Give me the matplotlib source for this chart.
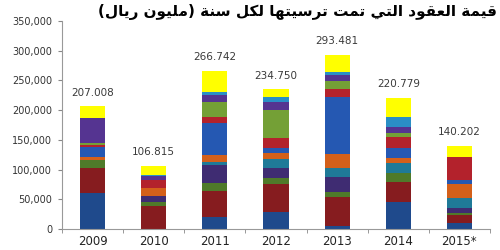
import matplotlib
matplotlib.use("Agg")
import matplotlib.pyplot as plt
import numpy as np

years = ["2009", "2010", "2011", "2012", "2013", "2014", "2015*"]
totals = [207008, 106815, 266742, 234750, 293481, 220779, 140202]

# stacked segments, bottom to top (values in million riyals)
navy   = [60600,     0, 20000, 28600,  5000, 45000, 10000]
maroon = [42000, 39000, 44000, 47000, 49000, 34000, 13500]
olive  = [13500,  7000, 13500, 10000,  8400, 15000,  3400]
purple = [    0, 10000, 30000, 17000, 25000,     0,  8400]
teal   = [    0,     0,  5000, 15000, 15000, 17000, 17000]
orange = [ 5000, 13500, 12000, 10000, 23600,  8400, 23600]
blue   = [17000,     0, 54000,  8400, 96000, 17000,  6700]
red    = [ 3000, 13000, 10000, 17000, 13500, 18500, 38700]
green  = [ 3500,     0, 25000, 47000, 13500,  6700,     0]
violet = [42000,  7000, 12000, 13500, 10000, 10000,     0]
sky    = [    0,  2000,  5000,  8400,  5000, 17000,     0]
yellow = [20400, 15300, 36200, 12850, 29500, 32200, 18900]

series = [navy, maroon, olive, purple, teal, orange, blue, red, green, violet, sky, yellow]
colors = ["#1f4a8c", "#861c1f", "#4f7a2a", "#3f2c72", "#1f7a98", "#d4601a",
          "#2558b2", "#b3222c", "#74a036", "#553491", "#2a8fc6", "#ffff00"]

title = "قيمة العقود التي تمت ترسيتها لكل سنة (مليون ريال)"

# minimal arabic shaping: (isolated, final, initial, medial)
forms = {
    "ا": ("\uFE8D", "\uFE8E", None, None),
    "ة": ("\uFE93", "\uFE94", None, None),
    "ت": ("\uFE95", "\uFE96", "\uFE97", "\uFE98"),
    "د": ("\uFEA9", "\uFEAA", None, None),
    "ر": ("\uFEAD", "\uFEAE", None, None),
    "س": ("\uFEB1", "\uFEB2", "\uFEB3", "\uFEB4"),
    "ع": ("\uFEC9", "\uFECA", "\uFECB", "\uFECC"),
    "ق": ("\uFED5", "\uFED6", "\uFED7", "\uFED8"),
    "ك": ("\uFED9", "\uFEDA", "\uFEDB", "\uFEDC"),
    "ل": ("\uFEDD", "\uFEDE", "\uFEDF", "\uFEE0"),
    "م": ("\uFEE1", "\uFEE2", "\uFEE3", "\uFEE4"),
    "ن": ("\uFEE5", "\uFEE6", "\uFEE7", "\uFEE8"),
    "ه": ("\uFEE9", "\uFEEA", "\uFEEB", "\uFEEC"),
    "و": ("\uFEED", "\uFEEE", None, None),
    "ي": ("\uFEF1", "\uFEF2", "\uFEF3", "\uFEF4"),
}


def shape(text):
    out = []
    for i, ch in enumerate(text):
        if ch not in forms:
            out.append(ch)
            continue
        prev = text[i - 1] if i > 0 else ""
        nxt = text[i + 1] if i + 1 < len(text) else ""
        join_prev = prev in forms and forms[prev][2] is not None
        join_next = forms[ch][2] is not None and nxt in forms
        if join_prev and join_next:
            out.append(forms[ch][3])
        elif join_prev:
            out.append(forms[ch][1])
        elif join_next:
            out.append(forms[ch][2])
        else:
            out.append(forms[ch][0])
    mirror = {"(": ")", ")": "("}
    return "".join(mirror.get(c, c) for c in reversed(out))


fig = plt.figure(figsize=(5, 2.5), dpi=100)
ax = fig.add_axes([0.124, 0.084, 0.856, 0.832])

x = np.arange(len(years))
bottom = np.zeros(len(years))
for vals, col in zip(series, colors):
    ax.bar(x, vals, width=0.41, bottom=bottom, color=col, linewidth=0)
    bottom += np.array(vals)

for xi, t in zip(x, totals):
    ax.annotate(f"{t:,}".replace(",", "."), (xi, t), xytext=(0, 6),
                textcoords="offset points", ha="center", va="bottom",
                fontsize=7.5, color="#3a3a3a")

ax.set_xlim(-0.5, len(years) - 0.5)
ax.set_ylim(0, 350000)
ax.set_yticks(np.arange(0, 350001, 50000))
ax.set_yticklabels([f"{v:,}" for v in range(0, 350001, 50000)])
ax.set_xticks(x)
ax.set_xticklabels(years)
ax.set_xticks(np.arange(-0.5, len(years)), minor=True)
ax.tick_params(axis="x", which="major", length=0, pad=4, labelsize=8.5, labelcolor="#222222")
ax.tick_params(axis="x", which="minor", length=3, color="#888888")
ax.tick_params(axis="y", length=3, color="#888888", labelsize=7, labelcolor="#333333", pad=4)
for s in ["top", "right"]:
    ax.spines[s].set_visible(False)
for s in ["left", "bottom"]:
    ax.spines[s].set_color("#999999")
    ax.spines[s].set_linewidth(0.8)

fig.text(0.994, 0.952, shape(title), ha="right", va="center", fontsize=11,
         fontweight="bold", family=["DejaVu Sans"])

fig.savefig("out.png", dpi=100)
